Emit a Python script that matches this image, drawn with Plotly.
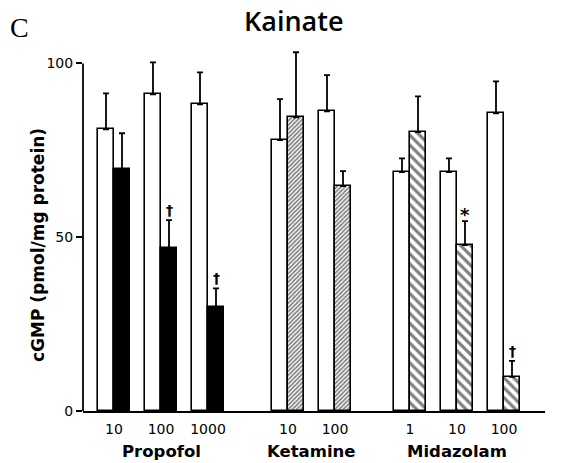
import plotly.graph_objects as go

# ---------------- data ----------------
drugs = ["Propofol", "Ketamine", "Midazolam"]
doses = [["10", "100", "1000"], ["10", "100"], ["1", "10", "100"]]
control_values = [81.0, 91.1, 88.2, 77.9, 86.2, 68.7, 68.7, 85.6]
control_errors = [10.4, 9.2, 9.2, 11.8, 10.4, 4.0, 4.0, 9.2]
treated_values = [69.5, 46.8, 29.9, 84.5, 64.7, 80.2, 47.7, 9.8]
treated_errors = [10.4, 8.1, 5.4, 18.7, 4.3, 10.3, 6.9, 4.6]
treated_marks = ["", "†", "†", "", "", "", "*", "†"]
y_ticks = [0, 50, 100]
y_title = "cGMP (pmol/mg protein)"
unit_label = "(μM)"

# ---------------- layout helpers ----------------
group_start = [114, 288, 410]
dose_spacing = 47
bar_w = 16
FONT = "DejaVu Sans"
TFONT = "Open Sans"

centers, drug_of = [], []
for g, ds in enumerate(doses):
    for i, _ in enumerate(ds):
        centers.append(group_start[g] + i * dose_spacing)
        drug_of.append(g)
tick_text = [d for ds in doses for d in ds]

fill_styles = [
    dict(color="black", pattern=None),
    dict(color="white", pattern=dict(shape="/", size=3, solidity=0.55, fgcolor="black", bgcolor="white")),
    dict(color="white", pattern=dict(shape="\\", size=7, solidity=0.45, fgcolor="black", bgcolor="white")),
]

fig = go.Figure()

err_common = dict(type="data", symmetric=False, color="black", thickness=1.8, width=3)

fig.add_trace(go.Bar(
    x=[c - bar_w / 2 for c in centers], y=control_values, width=bar_w,
    marker=dict(color="white", line=dict(color="black", width=1.6)),
    error_y=dict(array=control_errors, arrayminus=[0] * len(centers), **err_common),
    showlegend=False,
))

for g in range(len(drugs)):
    idx = [k for k in range(len(centers)) if drug_of[k] == g]
    st = fill_styles[g]
    marker = dict(color=st["color"], line=dict(color="black", width=1.6))
    if st["pattern"]:
        marker["pattern"] = st["pattern"]
    fig.add_trace(go.Bar(
        x=[centers[k] + bar_w / 2 for k in idx], y=[treated_values[k] for k in idx], width=bar_w,
        marker=marker,
        error_y=dict(array=[treated_errors[k] for k in idx], arrayminus=[0] * len(idx), **err_common),
        showlegend=False,
    ))

annotations = []
for k, m in enumerate(treated_marks):
    if m:
        annotations.append(dict(
            x=centers[k] + bar_w / 2, y=treated_values[k] + treated_errors[k],
            text=f"<b>{m}</b>", showarrow=False, yanchor="bottom", yshift=0 if m == "†" else -6,
            font=dict(family="DejaVu Sans", size=14 if m == "†" else 18, color="black")))

for g, name in enumerate(drugs):
    gc = [centers[k] for k in range(len(centers)) if drug_of[k] == g]
    annotations.append(dict(
        x=(gc[0] + gc[-1]) / 2, xref="x", y=451, yref="paper", yanchor="middle",
        text=name, showarrow=False,
        font=dict(family=FONT, size=16.5, weight="bold", color="black")))

annotations.append(dict(x=562, xref="x", y=428, yref="paper", yanchor="middle",
                        text=unit_label, showarrow=False,
                        font=dict(family=FONT, size=13, color="black")))
annotations.append(dict(x=8, xref="paper", xanchor="left", y=27, yref="paper", yanchor="middle",
                        text="C", showarrow=False,
                        font=dict(family="Liberation Serif", size=28, color="black")))
annotations.append(dict(x=293, xref="x", y=20, yref="paper", yanchor="middle",
                        text="Kainate", showarrow=False,
                        font=dict(family=TFONT, size=27, weight=600, color="black")))
annotations.append(dict(x=38, xref="paper", y=245, yref="paper", yanchor="middle", xanchor="center",
                        text=y_title, showarrow=False, textangle=-90,
                        font=dict(family=FONT, size=17, weight="bold", color="black")))

# convert pixel-y / pixel-x annotations to paper coords
H, W, L, R, T, B = 463, 579, 83, 34, 46, 52
for a in annotations:
    if a.get("yref") == "paper" and a["y"] > 1:
        a["y"] = (H - B - a["y"]) / (H - B - T)
    if a.get("xref") == "paper" and a["x"] > 1:
        a["x"] = (a["x"] - L) / (W - L - R)

fig.add_shape(type="line", xref="paper", yref="y", x0=0, x1=0, y0=0, y1=100,
              line=dict(color="black", width=1.8))

fig.update_layout(
    width=W, height=H,
    margin=dict(l=L, r=R, t=T, b=B),
    paper_bgcolor="white", plot_bgcolor="white",
    barmode="overlay", bargap=0,
    annotations=annotations,
    xaxis=dict(range=[83, 545], tickvals=centers, ticktext=tick_text, ticks="",
               ticklabelstandoff=4,
               showline=True, linecolor="black", linewidth=1.8, showgrid=False, zeroline=False,
               tickfont=dict(family=FONT, size=14, color="black")),
    yaxis=dict(range=[0, 105], tickvals=y_ticks, ticks="outside", ticklen=6, tickwidth=1.6,
               tickcolor="black", showline=False, showgrid=False, zeroline=False,
               tickfont=dict(family=FONT, size=14, color="black")),
)

fig.write_html("out.html")
